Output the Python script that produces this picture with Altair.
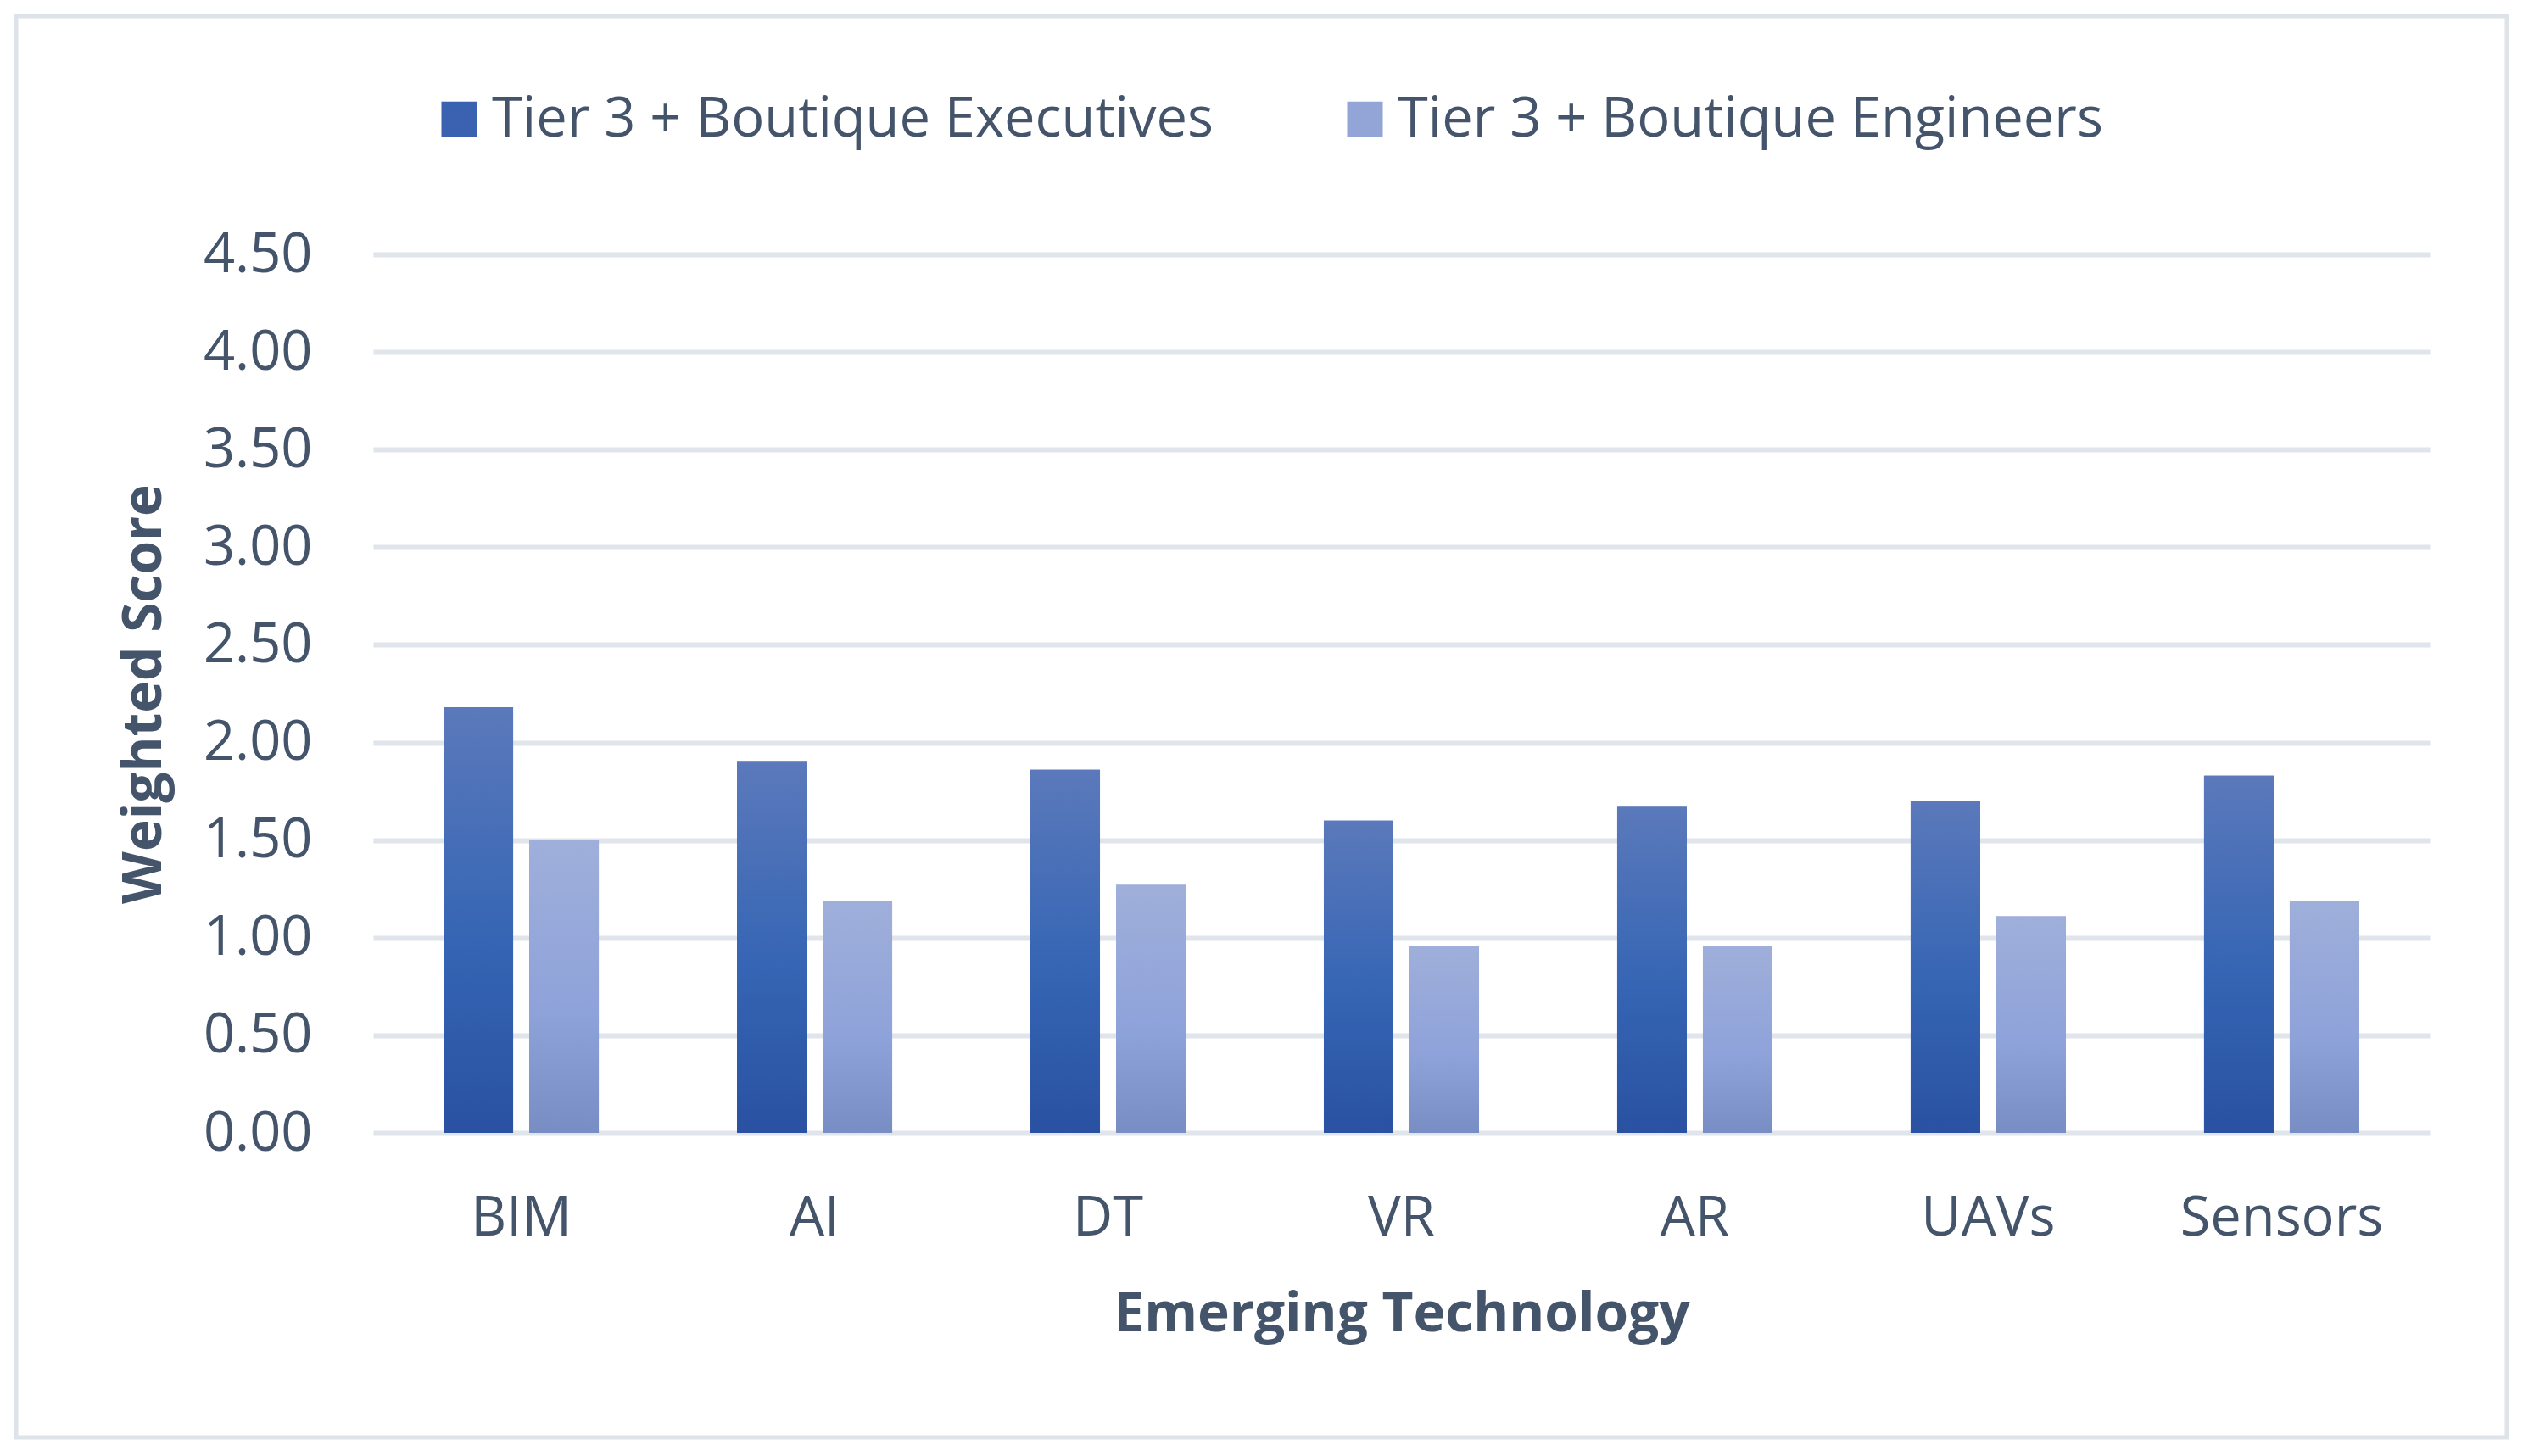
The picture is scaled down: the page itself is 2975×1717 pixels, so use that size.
import altair as alt
import pandas as pd

categories = ["BIM", "AI", "DT", "VR", "AR", "UAVs", "Sensors"]
executives = [2.18, 1.90, 1.86, 1.60, 1.67, 1.70, 1.83]
engineers = [1.50, 1.19, 1.27, 0.96, 0.96, 1.11, 1.19]
series_names = ["Tier 3 + Boutique Executives", "Tier 3 + Boutique Engineers"]
y_ticks = [0.0, 0.5, 1.0, 1.5, 2.0, 2.5, 3.0, 3.5, 4.0, 4.5]

rows = []
for c, v in zip(categories, executives):
    rows.append({"Technology": c, "Series": series_names[0], "Score": v})
for c, v in zip(categories, engineers):
    rows.append({"Technology": c, "Series": series_names[1], "Score": v})
df = pd.DataFrame(rows)

TEXT = "#44546A"
FONT = "Open Sans"
W, H = 2425, 1036

base = alt.Chart(df).encode(
    x=alt.X(
        "Technology:N",
        sort=categories,
        scale=alt.Scale(paddingInner=0.471, paddingOuter=0.24),
        axis=alt.Axis(
            title="Emerging Technology",
            labelAngle=0,
            labelPadding=69,
            labelBaseline="top",
            labelLimit=2000,
            titleX=W / 2,
            titleY=214,
            titleBaseline="middle",
            titleAlign="center",
        ),
    ),
    xOffset=alt.XOffset(
        "Series:N",
        sort=series_names,
        scale=alt.Scale(paddingInner=0.188, paddingOuter=0),
    ),
    y=alt.Y(
        "Score:Q",
        scale=alt.Scale(domain=[0, 4.5], nice=False),
        axis=alt.Axis(
            values=y_ticks,
            format=".2f",
            title="Weighted Score",
            labelPadding=72,
            grid=True,
            titleAngle=270,
            titleX=-270,
            titleY=H / 2,
            titleBaseline="middle",
            titleAlign="center",
        ),
    ),
)

legend_bars = base.mark_bar().encode(
    color=alt.Color(
        "Series:N",
        sort=series_names,
        scale=alt.Scale(domain=series_names, range=["#3A62B0", "#93A5D6"]),
        legend=alt.Legend(
            orient="none",
            legendX=69,
            legendY=-192,
            direction="horizontal",
            title=None,
            symbolType="square",
            symbolSize=1764,
            symbolStrokeWidth=0,
            labelFontSize=65,
            labelFont=FONT,
            labelColor=TEXT,
            labelLimit=2000,
            labelOffset=6,
            columnPadding=146,
            padding=0,
        ),
    )
)

exec_grad = alt.Gradient(
    gradient="linear",
    stops=[
        alt.GradientStop(color="#5B79BB", offset=0),
        alt.GradientStop(color="#3565B4", offset=0.55),
        alt.GradientStop(color="#2A51A2", offset=1),
    ],
    x1=0, x2=0, y1=0, y2=1,
)
eng_grad = alt.Gradient(
    gradient="linear",
    stops=[
        alt.GradientStop(color="#9FAFDA", offset=0),
        alt.GradientStop(color="#8EA2DA", offset=0.6),
        alt.GradientStop(color="#798DC5", offset=1),
    ],
    x1=0, x2=0, y1=0, y2=1,
)

exec_bars = base.transform_filter(alt.datum.Series == series_names[0]).mark_bar(color=exec_grad)
eng_bars = base.transform_filter(alt.datum.Series == series_names[1]).mark_bar(color=eng_grad)

frame = alt.Chart(pd.DataFrame({"frame": [0]})).mark_rect(
    fillOpacity=0, stroke="#DEE2E9", strokeWidth=5
).encode(
    x=alt.value(-421), x2=alt.value(2516), y=alt.value(-281), y2=alt.value(1395)
)

chart = alt.layer(frame, legend_bars, exec_bars, eng_bars).properties(
    width=W,
    height=H,
    padding={"left": 8, "top": 8, "right": 5, "bottom": 5},
    background="white",
).configure_view(
    strokeWidth=0
).configure_axis(
    domain=False,
    ticks=False,
    gridColor="#E0E4EB",
    gridWidth=6,
    labelFont=FONT,
    labelFontSize=65,
    labelColor=TEXT,
    titleFont=FONT,
    titleFontSize=64,
    titleFontWeight="bold",
    titleColor=TEXT,
)

chart.save("out.html", embed_options={"renderer": "svg", "actions": False})
